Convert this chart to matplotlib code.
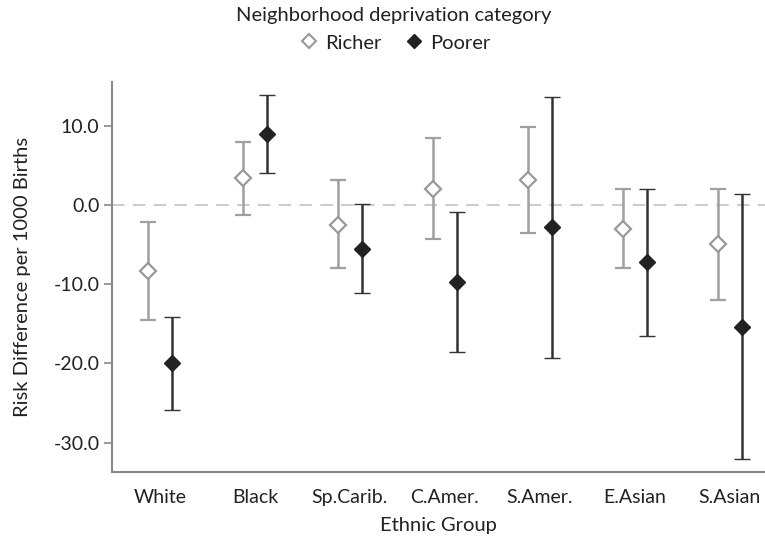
import matplotlib
matplotlib.use("Agg")
import matplotlib.pyplot as plt
import numpy as np
from matplotlib.ticker import FormatStrFormatter
from matplotlib.lines import Line2D

plt.rcParams['font.family'] = ['Lato', 'DejaVu Sans']

categories = ["White", "Black", "Sp.Carib.", "C.Amer.", "S.Amer.", "E.Asian", "S.Asian"]
richer_est = [-8.3, 3.4, -2.5, 2.0, 3.15, -3.0, -4.9]
richer_lo = [-14.5, -1.3, -7.9, -4.25, -3.6, -8.0, -12.0]
richer_hi = [-2.2, 8.0, 3.1, 8.45, 9.85, 2.05, 2.05]
poorer_est = [-20.0, 8.95, -5.5, -9.7, -2.8, -7.2, -15.35]
poorer_lo = [-25.9, 4.0, -11.05, -18.5, -19.3, -16.6, -32.1]
poorer_hi = [-14.2, 13.9, 0.1, -0.85, 13.6, 2.05, 1.4]
yticks = [10, 0, -10, -20, -30]

fig = plt.figure(figsize=(7.65, 5.44), dpi=100)
ax = fig.add_axes([0.1464, 0.1324, 0.8536, 0.7166])

x = np.arange(len(categories))
off = 0.126

ax.axhline(0, color='#cccccc', lw=1.5, ls=(0, (6, 4)), zorder=0)

re = np.array(richer_est)
pe = np.array(poorer_est)
ax.errorbar(x - off, re, yerr=[re - np.array(richer_lo), np.array(richer_hi) - re],
            fmt='D', ms=8, mfc='white', mec='#999999', mew=1.6,
            ecolor='#a0a0a0', elinewidth=1.8, capsize=6, capthick=1.8,
            label='Richer', zorder=3)
ax.errorbar(x + off, pe, yerr=[pe - np.array(poorer_lo), np.array(poorer_hi) - pe],
            fmt='D', ms=8, mfc='#222222', mec='#222222', mew=1.0,
            ecolor='#333333', elinewidth=1.8, capsize=6, capthick=1.8,
            label='Poorer', zorder=3)

ax.set_xlim(-0.505, 6.37)
ax.set_ylim(-33.7, 15.5)
ax.set_yticks(yticks)
ax.yaxis.set_major_formatter(FormatStrFormatter('%.1f'))
ax.set_xticks(x)
ax.set_xticklabels(categories)

for s in ['top', 'right']:
    ax.spines[s].set_visible(False)
for s in ['left', 'bottom']:
    ax.spines[s].set_color('#888888')
    ax.spines[s].set_linewidth(1.5)
ax.tick_params(axis='y', length=6, width=1.2, color='#888888', labelsize=14, labelcolor='#222222', pad=3)
ax.tick_params(axis='x', length=0, labelsize=14, labelcolor='#222222', pad=12)

ax.set_ylabel('Risk Difference per 1000 Births', fontsize=14.5, color='#222222', labelpad=16)
ax.set_xlabel('Ethnic Group', fontsize=14.5, color='#222222', labelpad=8)

h = [Line2D([], [], ls='none', marker='D', ms=7, mfc='white', mec='#999999', mew=1.5),
     Line2D([], [], ls='none', marker='D', ms=7, mfc='#222222', mec='#222222')]
leg = fig.legend(h, ['Richer', 'Poorer'], loc='upper center', bbox_to_anchor=(0.515, 1.005),
                 ncol=2, frameon=False, title='Neighborhood deprivation category',
                 fontsize=14.5, title_fontsize=14.5, handletextpad=0.2, columnspacing=1.0,
                 handlelength=1.2, borderaxespad=0.1)
for t in leg.get_texts():
    t.set_color('#222222')
leg.get_title().set_color('#222222')

fig.savefig('out.png', dpi=100)
